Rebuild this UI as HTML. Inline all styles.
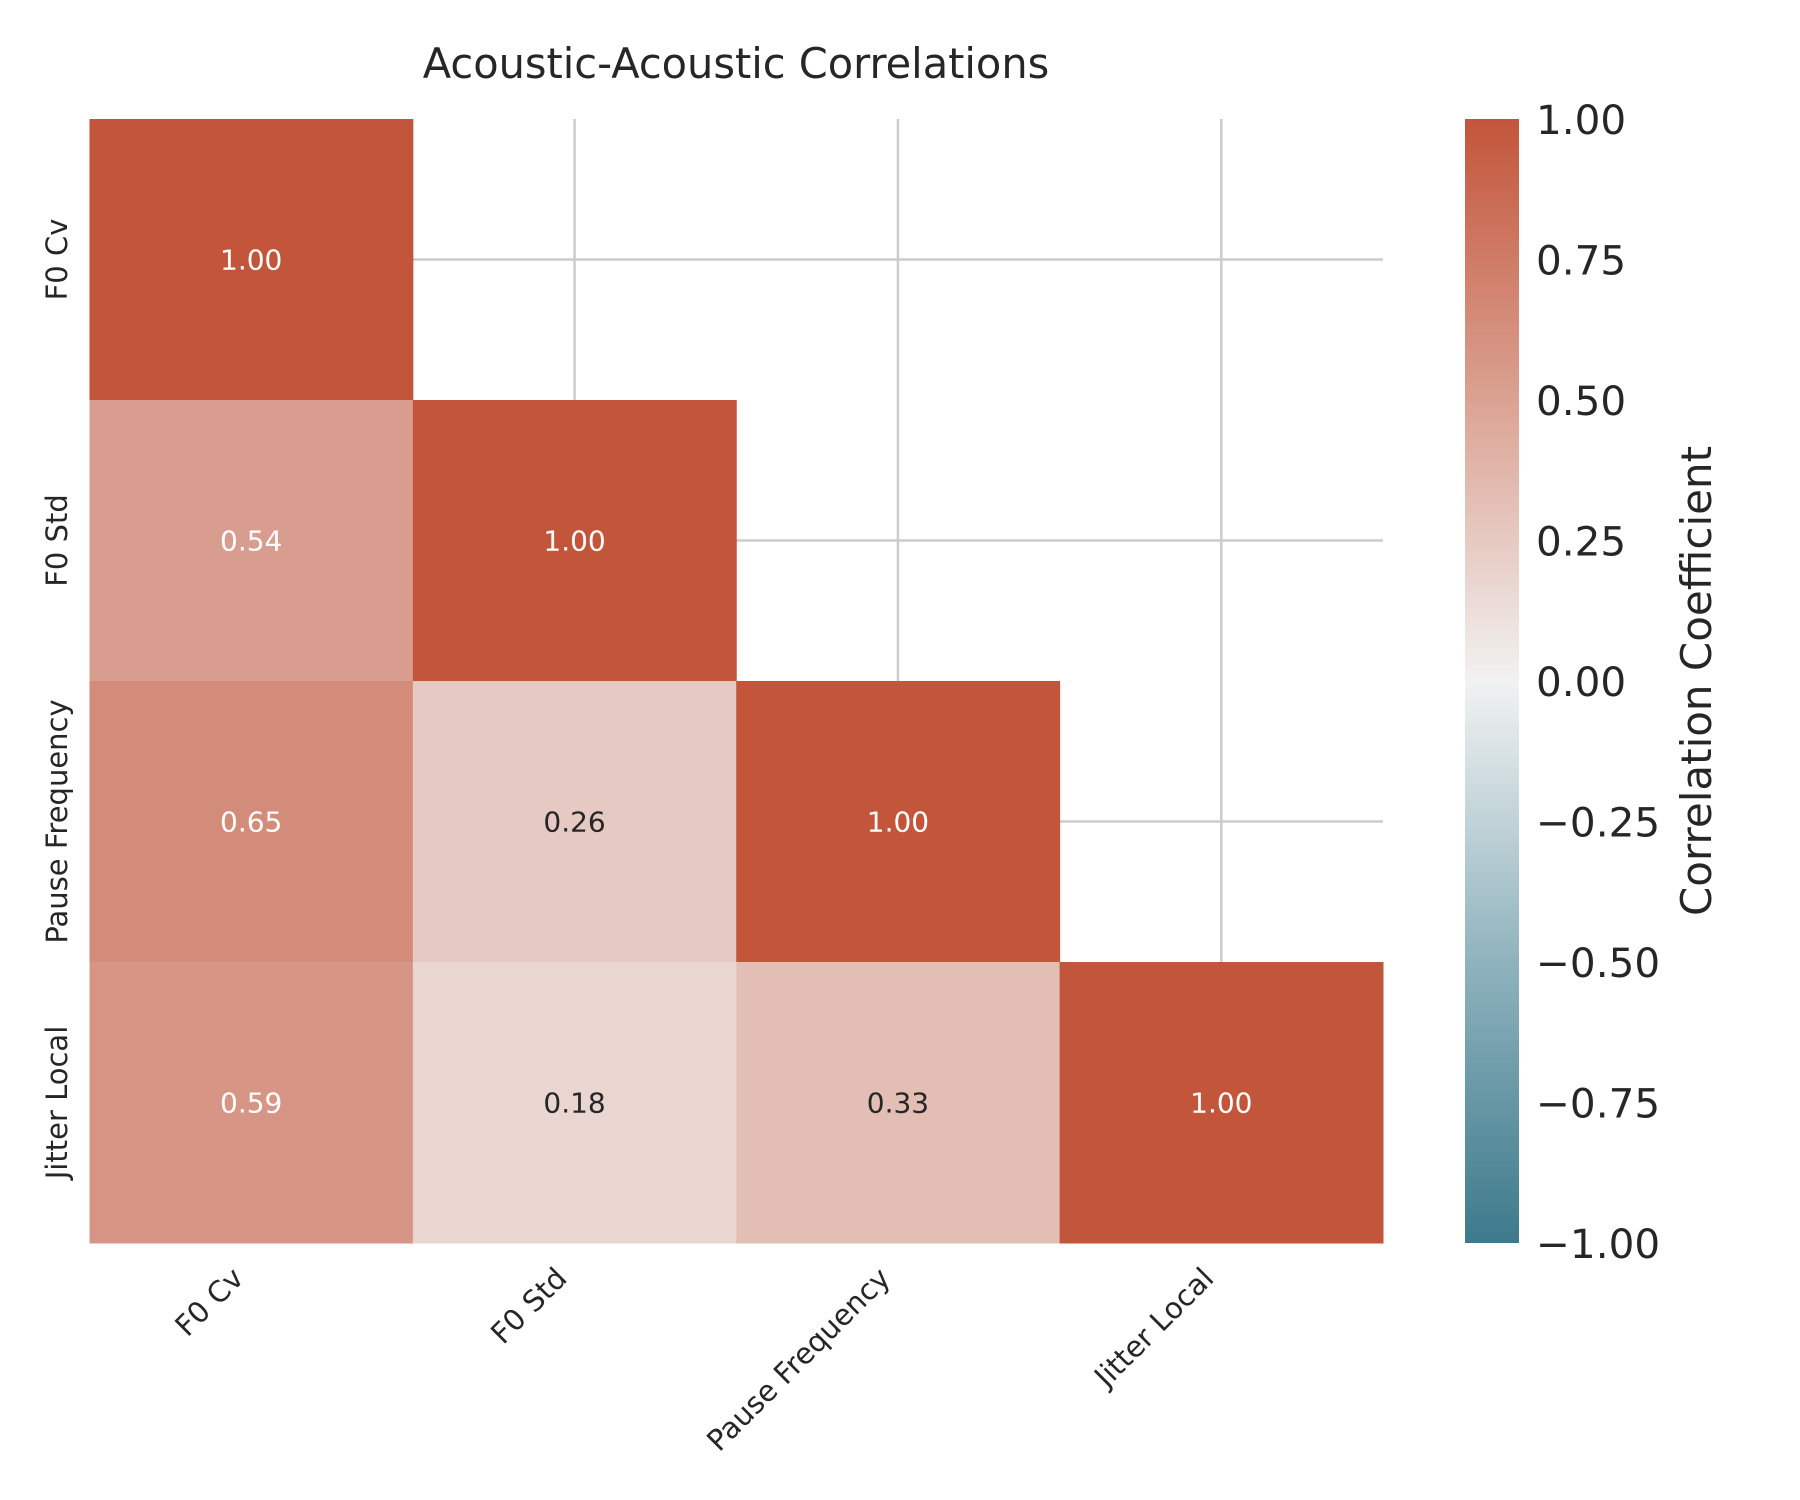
<!DOCTYPE html>
<html><head><meta charset="utf-8"><style>
body{margin:0;background:#fff}
svg{display:block;font-family:"DejaVu Sans","Liberation Sans",sans-serif}
</style></head><body>
<svg id="chart" width="1800" height="1500" viewBox="0 0 1800 1500">
<defs>
<linearGradient id="cbgrad" x1="0" y1="1" x2="0" y2="0">
<stop offset="0" stop-color="#3d7a8c"/>
<stop offset="0.25" stop-color="#8fb3bd"/>
<stop offset="0.5" stop-color="#f2f2f2"/>
<stop offset="0.75" stop-color="#dba292"/>
<stop offset="1" stop-color="#c3553a"/>
</linearGradient>
</defs>
<text x="736" y="78" text-anchor="middle" font-size="41.5" fill="#262626">Acoustic-Acoustic Correlations</text>
<g id="grid"></g>
<g id="cells"></g>
<g id="xlabels"></g>
<g id="ylabels"></g>
<rect x="1465" y="119" width="54" height="1124" fill="url(#cbgrad)"/>
<g id="cbticks"></g>
<text transform="translate(1711,681) rotate(-90)" text-anchor="middle" font-size="42" fill="#262626">Correlation Coefficient</text>
</svg>
<script>
const labels = ["F0 Cv","F0 Std","Pause Frequency","Jitter Local"];
const row0 = [1.00];
const row1 = [0.54,1.00];
const row2 = [0.65,0.26,1.00];
const row3 = [0.59,0.18,0.33,1.00];
const values = [row0,row1,row2,row3];
const cbTicks = [1.00,0.75,0.50,0.25,0.00,-0.25,-0.50,-0.75,-1.00];

const NS="http://www.w3.org/2000/svg";
const L=89.5,R=1383,T=119,B=1243;
const n=labels.length, cw=(R-L)/n, ch=(B-T)/n;
const xPos=i=>L+i*cw, yPos=i=>T+i*ch;
const cbY=v=>B-(v+1)/2*(B-T);
function lerp(a,b,t){return a.map((x,i)=>Math.round(x+(b[i]-x)*t));}
function color(v){
  const neg=[61,122,140], mid=[242,242,242], pos=[195,85,58];
  const c=v>=0?lerp(mid,pos,v):lerp(mid,neg,-v);
  return `rgb(${c[0]},${c[1]},${c[2]})`;
}
function mk(tag,attrs,parent){const e=document.createElementNS(NS,tag);for(const k in attrs)e.setAttribute(k,attrs[k]);parent.appendChild(e);return e;}
const grid=document.getElementById('grid');
for(let i=0;i<n;i++){
  const gx=mk('line',{x1:xPos(i)+cw/2,x2:xPos(i)+cw/2,y1:T,y2:B,stroke:'#cccccc','stroke-width':2.5},grid);
  
  
  const gy=mk('line',{x1:L,x2:R,y1:yPos(i)+ch/2,y2:yPos(i)+ch/2,stroke:'#cccccc','stroke-width':2.5},grid);
  
  
}
const cells=document.getElementById('cells');
values.forEach((row,r)=>row.forEach((v,c)=>{
  const rc=mk('rect',{x:xPos(c),y:yPos(r),width:cw+0.5,height:ch+0.5,fill:color(v)},cells);
  
  
  const t=mk('text',{x:xPos(c)+cw/2,y:yPos(r)+ch/2+10,'text-anchor':'middle','font-size':28,fill:v>0.5?'#ffffff':'#262626'},cells);
  t.textContent=v.toFixed(2);
  
  
}));
const xl=document.getElementById('xlabels');
labels.forEach((s,i)=>{
  const x=xPos(i)+cw/2-6, y=1280;
  const t=mk('text',{transform:`translate(${x},${y}) rotate(-45)`,'text-anchor':'end','font-size':29,fill:'#262626'},xl);
  t.textContent=s;
  
  
});
const yl=document.getElementById('ylabels');
labels.forEach((s,i)=>{
  const t=mk('text',{transform:`translate(67,${yPos(i)+ch/2}) rotate(-90)`,'text-anchor':'middle','font-size':29,fill:'#262626'},yl);
  t.textContent=s;
  
  
});
const cb=document.getElementById('cbticks');
cbTicks.forEach(v=>{
  const t=mk('text',{x:1536,y:cbY(v)+15,'font-size':40.5,fill:'#262626'},cb);
  t.textContent=(v<0?'\u2212':'')+Math.abs(v).toFixed(2);
  
  
});
</script>
</body></html>
